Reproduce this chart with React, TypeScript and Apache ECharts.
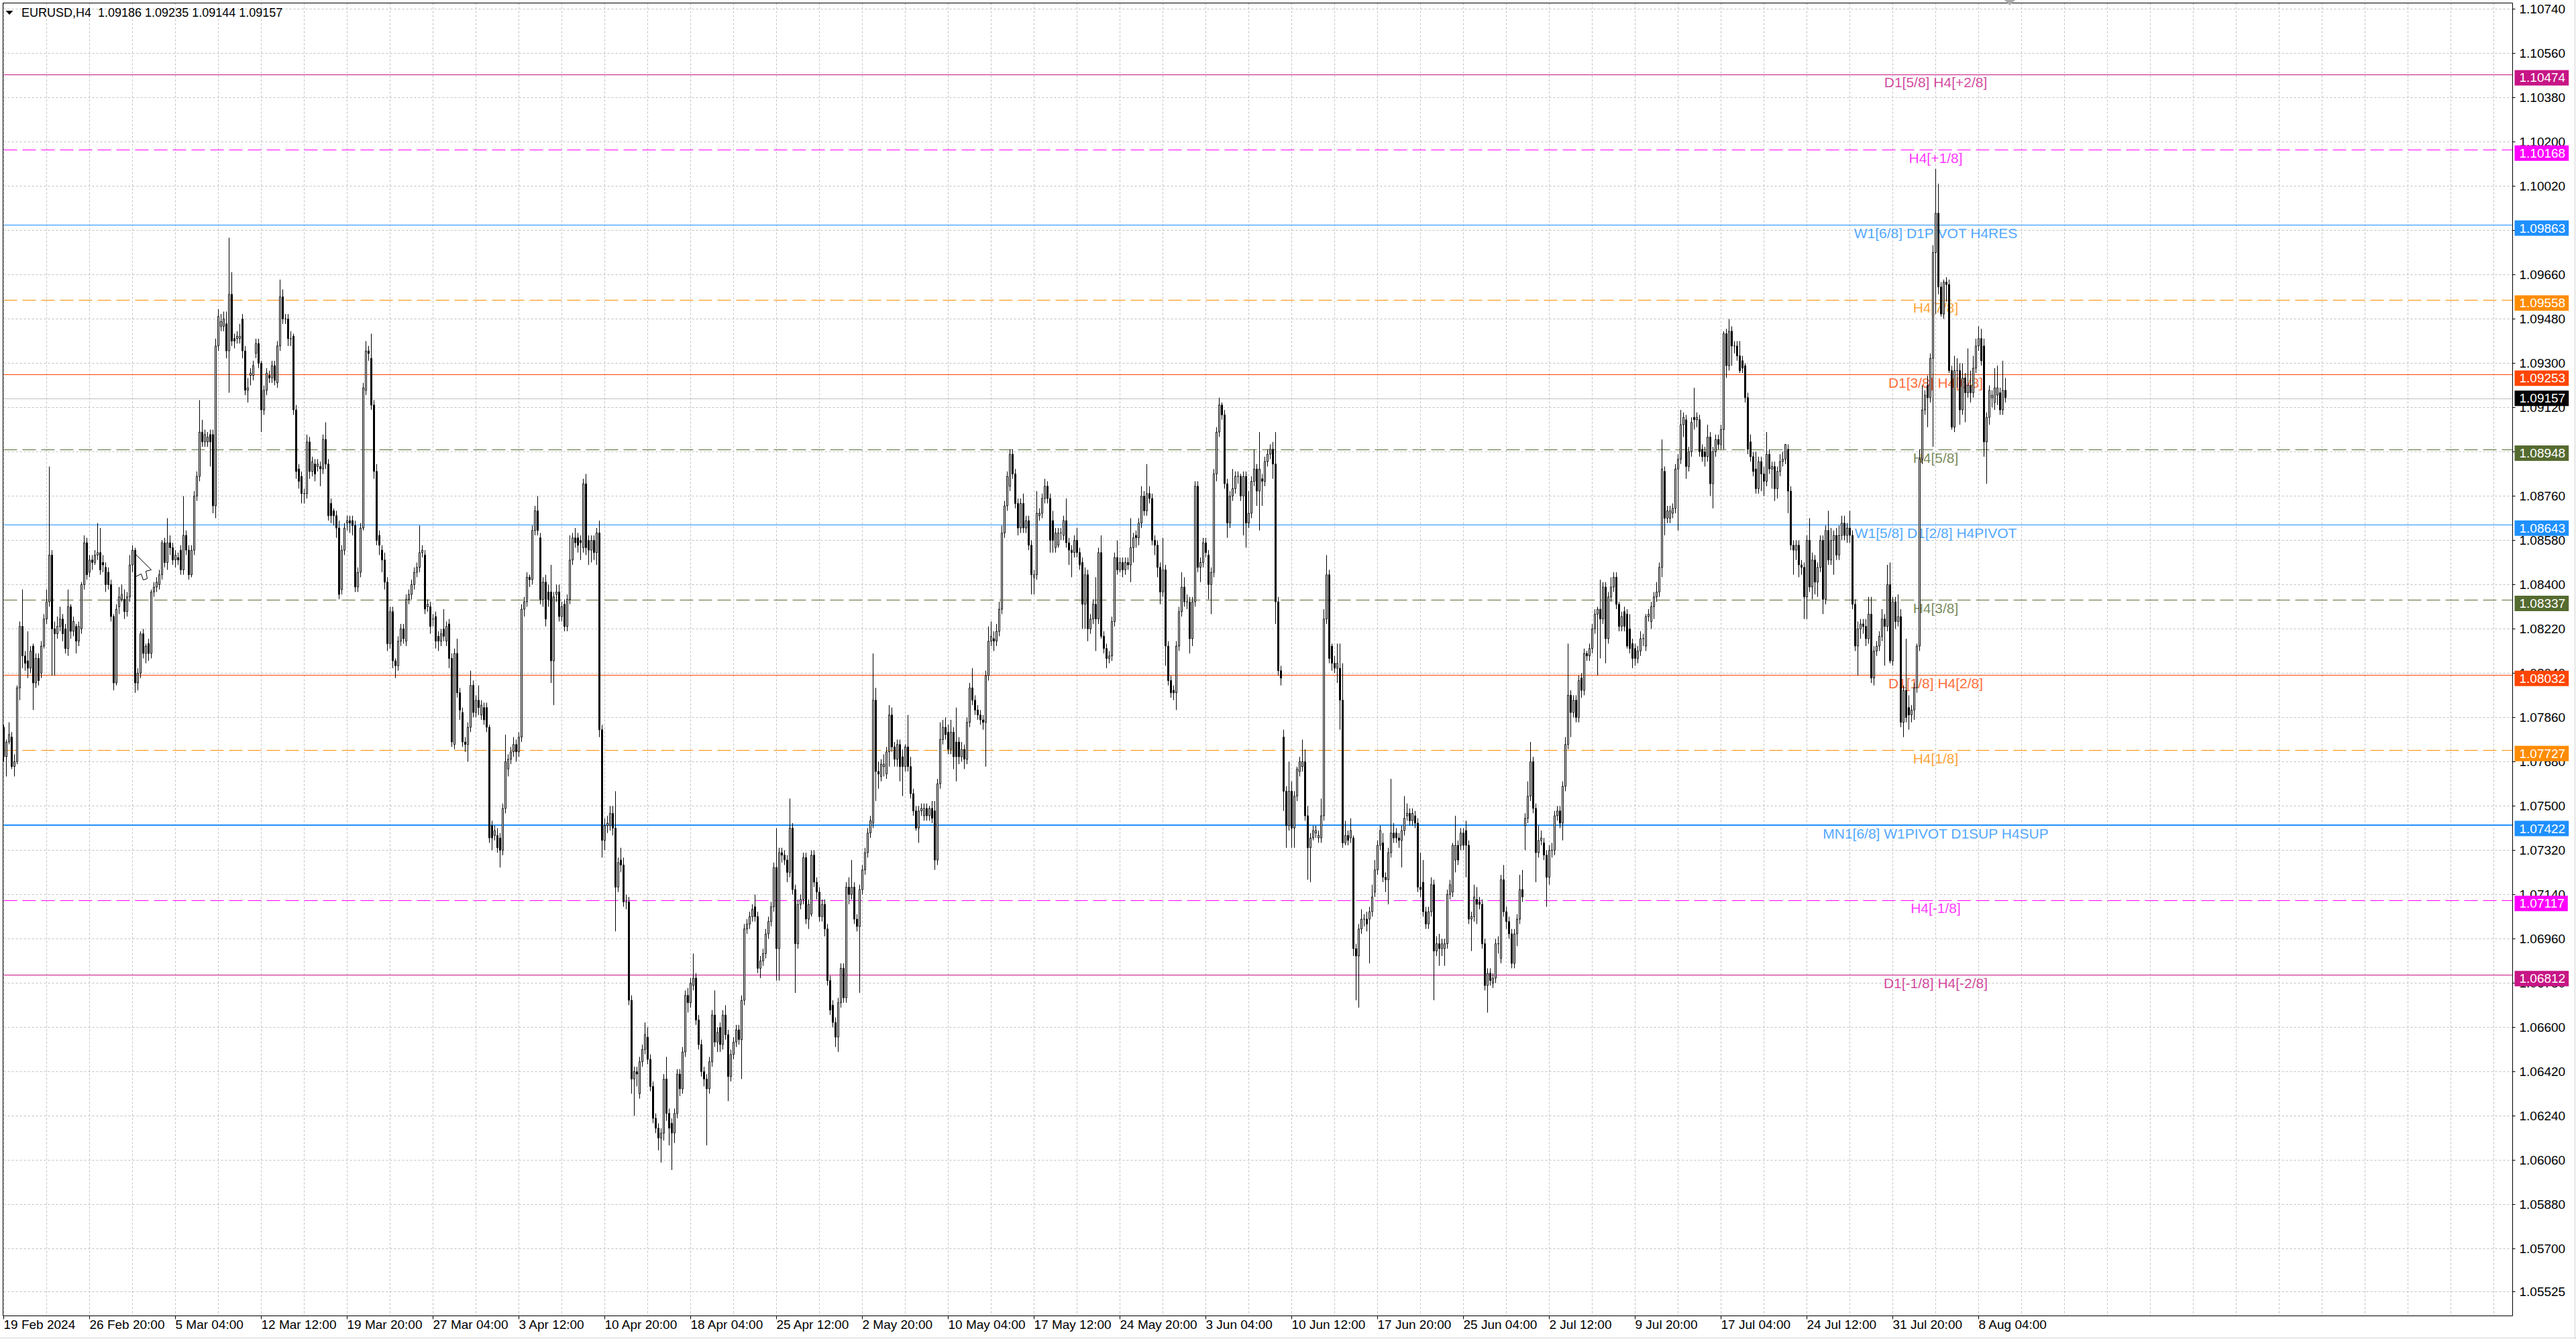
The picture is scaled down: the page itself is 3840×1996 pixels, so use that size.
import * as echarts from "echarts";
import { useEffect, useRef } from "react";

// H4 bars, one row per bar: [open, close, low, high], in pips above 1.0500.
const PIP_BASE = 1.05;

const febMarBars = [
  [282,270,268,283],[270,276,262,277],[276,279,275,284],[278,266,265,280],[266,268,262,271],[268,298,267,299],
  [298,323,293,325],[323,311,306,338],[311,308,305,313],[309,306,302,321],[306,313,304,315],[315,300,289,316],
  [300,310,298,312],[310,301,299,312],[304,315,302,317],[315,326,314,328],[326,333,324,338],[333,352,331,388],
  [352,322,303,354],[322,320,303,325],[320,323,318,327],[323,326,321,331],[326,320,317,328],[322,314,312,324],
  [314,331,311,338],[331,321,318,332],[321,325,319,327],[323,317,312,324],[317,323,315,325],[322,340,320,341],
  [340,357,338,360],[357,344,342,359],[345,350,343,352],[350,349,346,352],[349,352,348,354],[352,353,350,365],
  [353,346,344,363],[349,348,345,352],[347,340,337,349],[345,340,338,347],[340,327,325,342],[327,300,297,328],
  [300,330,299,332],[331,335,328,339],[334,336,333,340],[334,329,326,338],[329,335,327,337],[335,348,333,352],
  [348,354,345,356],[354,300,296,355],[300,304,297,306],[304,320,302,321],[320,312,310,322],[312,315,308,316],
  [316,312,309,318],[312,337,310,338],[337,339,335,341],[339,341,337,343],[340,344,338,346],[344,357,342,358],
  [357,349,347,359],[349,357,346,367],[357,355,352,360],[355,350,348,357],[350,352,347,354],[351,350,348,353],
  [354,346,344,356],[346,360,344,376],[360,354,352,362],[354,344,342,356],[344,354,343,356],[354,376,352,378],
  [376,384,374,386],[384,402,382,415],[402,398,396,407],[398,401,396,403],[398,400,396,402],[401,398,388,403],
  [401,372,369,403],[372,437,367,440],[437,449,435,452],[445,447,443,450],[445,448,443,451],[446,435,432,451],
  [435,458,418,481],[458,439,437,467],[440,439,436,442],[440,441,438,443],[440,441,438,446],[448,435,432,450],
  [435,419,417,437],[419,420,414,424],[425,426,421,428],[425,429,423,431],[434,438,432,440],[438,430,428,440],
  [430,411,402,431],[411,419,409,421],[419,426,417,428],[425,424,422,427],[424,429,422,431],[429,423,421,431],
  [422,437,420,439],[437,457,435,464],[457,448,446,460],[448,448,446,450],[448,440,437,450],[440,440,437,443],
  [441,411,409,442],[411,386,383,413],[387,382,379,389],[384,377,373,386],[377,377,373,379],[377,398,375,401],
  [398,386,383,400],[386,390,384,392],[389,385,382,391],[388,389,386,391],[388,387,380,390],[387,399,385,401],
  [399,389,387,406],[389,368,366,391],[373,368,365,375],[370,368,364,371],[368,363,359,370],[363,336,334,366],
  [338,354,336,356],[354,363,352,365],[365,366,362,368],[366,365,361,368],[366,364,360,368],[364,339,337,366],
  [339,345,337,347],[345,363,343,365],[363,420,362,422],[419,435,417,439],[435,434,431,437],[432,413,411,442],
  [413,386,383,415],[386,358,356,389],[360,356,352,362],[354,350,345,356],[350,341,338,353],[341,316,313,343],
  [316,329,314,331],[329,309,306,331],[309,307,302,310],[307,317,305,319],[317,322,315,324],[322,318,316,324],
  [317,334,315,336],[334,336,332,338],[336,340,334,342],[340,345,338,347],[345,347,343,349],[347,353,345,364],
  [353,354,351,356],[352,330,328,354],[331,332,329,334],[331,323,320,333],[326,326,323,328],[327,317,314,329],
  [319,317,313,321],[317,320,315,322],
];

const marAprBars = [
  [322,319,317,330],[317,323,315,325],[324,310,306,326],[310,276,274,312],[275,312,273,314],[312,296,294,318],
  [296,289,285,298],[288,276,274,290],[276,275,272,278],[275,282,268,284],[282,299,280,305],[299,288,286,301],
  [288,293,286,295],[293,290,287,299],[287,291,285,293],[290,285,283,292],[290,282,280,292],[282,237,235,283],
  [242,237,232,244],[238,240,236,242],[238,233,231,241],[237,232,225,239],[232,249,230,251],[249,268,247,279],
  [265,269,262,271],[269,272,267,274],[272,275,270,278],[275,272,268,277],[272,278,270,280],[278,330,276,332],
  [330,333,327,335],[333,343,331,345],[343,342,339,344],[342,362,340,364],[362,370,360,372],[370,362,360,376],
  [359,334,332,361],[334,341,331,343],[341,326,323,344],[337,334,331,340],[337,309,300,348],[309,335,291,337],
  [336,337,333,340],[337,327,325,340],[327,331,325,333],[332,323,321,334],[323,334,321,336],[334,350,332,360],
  [350,359,348,361],[359,357,355,363],[359,356,353,361],[358,357,350,360],[355,381,353,383],[381,355,352,385],
  [358,354,348,360],[354,358,349,360],[358,353,350,360],[353,361,348,363],[361,281,278,366],[281,236,229,283],
  [236,242,232,245],[242,243,239,246],[242,247,240,250],[247,241,238,250],[241,217,199,256],[217,227,215,229],
  [228,226,223,233],[226,211,209,229],[211,211,208,214],[211,171,169,213],[171,139,133,173],[139,142,124,144],
  [142,141,136,144],[133,146,131,148],[146,151,144,153],[151,157,149,162],[156,147,145,160],[147,136,134,149],
  [136,123,121,138],[123,119,117,125],[119,115,110,121],[115,117,105,119],[117,139,114,141],[139,125,122,148],
  [125,119,112,127],[121,117,102,123],[117,125,113,127],[125,141,123,143],[141,135,132,143],[135,150,133,152],
  [150,173,148,175],[173,170,166,176],[170,178,168,180],[177,180,175,190],[180,163,161,182],[163,153,151,165],
  [153,142,140,155],[142,139,136,144],[139,135,112,141],[135,146,133,148],[146,165,144,167],[165,154,152,175],
  [154,158,150,160],[160,153,150,162],[153,165,151,167],[165,157,155,169],[157,140,130,159],[140,149,138,151],
  [149,154,147,156],[154,159,152,161],[159,155,153,161],[155,171,139,173],[171,200,169,202],[200,202,198,204],
  [202,205,200,207],[205,208,203,210],[209,205,203,214],[205,184,182,207],[184,187,180,189],[187,190,185,192],
  [190,198,188,200],[198,203,196,205],[203,209,201,211],[209,225,207,227],[225,192,179,241],[192,231,179,233],
  [231,230,227,233],[230,228,226,232],[228,223,219,230],[223,241,221,253],[241,216,214,243],[216,194,174,218],
  [194,210,192,212],[210,212,208,214],[212,229,210,231],[229,204,202,231],[204,210,200,212],[206,230,205,232],
  [230,219,217,232],[219,215,212,221],[215,205,203,217],[205,210,203,212],[210,200,197,212],[200,179,177,202],
  [179,167,165,181],[169,162,160,171],[162,156,152,164],[156,170,150,172],[170,184,168,186],[184,172,170,186],
  [172,217,170,219],[217,214,210,221],[214,217,212,228],[217,204,202,219],[204,201,199,206],[201,216,174,218],
  [216,224,214,226],[224,231,222,233],[231,239,229,241],[239,244,237,246],
];

const mayJunBars = [
  [243,293,241,312],[293,264,252,298],[264,263,257,268],[262,267,260,269],[266,267,262,271],[263,272,261,274],
  [272,287,266,291],[287,274,272,290],[274,269,266,276],[269,275,266,277],[275,266,260,277],[270,266,254,273],
  [266,274,264,275],[274,266,264,287],[266,255,253,270],[255,248,246,257],[248,241,240,250],[241,248,235,250],
  [248,249,246,251],[246,249,244,251],[249,246,244,251],[246,249,244,250],[249,245,243,252],[248,228,224,252],
  [228,259,226,261],[259,277,257,284],[277,282,275,285],[282,279,277,286],[280,273,271,283],[273,280,271,285],
  [280,270,265,282],[276,270,260,290],[276,270,267,278],[270,273,268,276],[273,269,265,275],[269,284,267,286],
  [284,298,282,300],[298,293,291,306],[293,289,287,295],[289,287,285,291],[287,285,283,289],[285,284,281,287],
  [284,303,266,305],[303,317,301,323],[317,319,315,325],[318,317,313,321],[317,321,315,324],[321,330,319,333],
  [330,361,328,364],[361,372,359,374],[372,384,370,386],[380,393,378,395],[393,385,383,395],[385,373,371,387],
  [373,363,360,375],[363,373,361,375],[373,363,361,377],[363,366,361,368],[366,356,354,368],[356,344,336,358],
  [343,344,336,346],[344,369,342,378],[368,369,366,371],[369,375,367,377],[375,380,373,383],[380,375,373,382],
  [375,358,353,377],[366,358,353,370],[355,361,353,363],[356,361,355,363],[361,361,358,363],[360,366,358,368],
  [366,357,355,375],[357,354,348,359],[354,353,343,356],[353,358,351,360],[358,353,351,363],[353,348,346,355],
  [349,332,322,351],[332,344,322,347],[344,322,317,346],[322,326,320,328],[326,332,324,334],[332,326,313,343],
  [326,353,324,355],[353,319,318,360],[319,314,312,321],[314,310,306,316],[310,311,308,313],[311,325,309,327],
  [325,351,323,353],[351,346,344,358],[346,349,345,351],[349,346,343,351],[346,349,344,351],[349,348,346,351],
  [348,355,341,367],[355,359,349,361],[360,359,355,362],[359,365,356,367],[365,376,363,380],[376,370,368,378],
  [370,377,368,389],[377,375,373,380],[375,358,356,377],[358,356,352,360],[356,347,343,358],[347,337,332,349],
  [337,346,335,359],[346,315,307,348],[315,301,299,317],[301,296,294,303],[297,296,293,299],[296,315,289,317],
  [315,329,313,331],[329,339,327,345],[339,333,331,343],[333,333,330,336],[333,318,312,335],[318,333,315,335],
  [333,380,331,382],[380,347,345,382],[347,349,341,351],[349,357,347,359],[357,353,351,359],[352,340,334,354],
  [340,345,328,347],[345,385,343,387],[385,402,382,404],[402,413,400,416],[413,409,407,414],[409,381,379,411],
  [381,365,359,383],[365,376,363,378],[376,379,374,387],[379,384,377,386],[384,384,381,386],[384,376,374,385],
  [376,384,360,386],[384,365,355,386],[365,369,363,378],[369,382,367,384],[382,387,380,395],[387,378,372,389],
  [378,387,362,402],[383,382,372,385],[382,390,380,392],[390,393,388,395],[393,395,391,397],[395,389,383,398],
  [389,333,324,402],[333,305,303,335],[305,302,299,307],[278,256,248,281],[256,242,233,258],
];

const junJulBars = [
  [242,256,240,268],[256,241,233,260],[241,254,233,256],[254,265,252,266],[264,268,262,270],[266,268,264,277],
  [268,246,244,273],[246,233,220,250],[233,237,219,239],[237,240,236,242],[239,240,237,242],[237,238,235,240],
  [237,246,235,253],[246,326,244,330],[326,344,324,352],[344,310,308,346],[315,308,305,316],[308,306,304,311],
  [306,308,300,316],[306,293,281,316],[293,235,233,308],[235,238,234,244],[238,236,234,240],[237,240,235,245],
  [237,192,189,238],[192,189,171,194],[189,200,168,202],[200,204,198,208],[204,204,201,206],[204,202,199,207],
  [204,207,186,209],[207,213,205,218],[215,224,213,228],[224,234,222,236],[234,240,232,242],[235,221,219,239],
  [221,220,215,223],[220,231,210,233],[231,239,229,261],[239,237,235,243],[239,237,235,241],[237,236,233,239],
  [236,240,225,242],[240,245,238,254],[246,247,244,251],[247,244,242,249],[244,247,242,249],[246,243,241,248],
  [243,217,215,245],[217,216,213,231],[219,207,205,228],[207,202,200,209],[202,207,200,209],[207,218,205,221],
  [218,191,171,220],[191,194,189,197],[194,192,185,198],[192,194,189,196],[192,194,185,196],[194,214,192,216],
  [214,218,212,220],[215,234,213,235],[228,234,223,246],[234,228,226,236],[234,239,232,241],[239,234,232,241],
  [240,234,221,244],[234,204,202,236],[204,205,191,207],[205,213,203,218],[212,210,202,217],[211,210,208,213],
  [210,194,192,212],[194,177,175,196],[177,182,166,184],[182,179,177,184],[178,180,176,182],[180,194,178,196],
  [194,194,190,197],[188,220,186,222],[220,207,205,226],[207,203,200,209],[203,198,196,205],[198,186,184,200],
  [186,198,184,200],[198,204,193,206],[204,216,202,222],[216,213,211,224],[242,245,232,247],[245,254,243,260],
  [254,268,252,276],[268,249,247,270],[249,231,219,251],[231,236,229,242],[236,237,234,240],[235,230,228,237],
  [230,221,209,232],[221,232,218,234],[232,232,229,235],[232,246,230,248],[246,248,244,250],[248,243,241,250],
  [243,258,236,260],[258,275,256,278],[275,295,273,316],[295,288,278,297],[288,293,286,295],[293,286,284,295],
  [286,301,284,303],[302,297,294,304],[297,312,295,314],[312,311,309,313],[311,314,309,316],[314,322,312,324],
  [322,328,320,330],[328,330,303,331],[330,326,310,342],[326,339,324,341],[339,318,308,341],[318,335,316,337],
  [335,339,333,343],[339,343,337,345],[343,332,330,345],[332,323,321,333],[323,327,321,329],[329,323,321,331],
  [328,315,314,330],[322,314,312,328],[316,310,306,318],[314,310,307,316],[310,313,308,315],[313,318,311,321],
  [318,318,315,320],[315,327,313,328],[327,328,325,330],[325,331,322,333],[331,335,326,337],[335,337,333,341],
  [337,347,335,349],[347,387,343,399],[386,367,360,388],[367,370,365,372],[367,370,365,372],[369,371,367,373],
  [371,387,369,389],[387,391,362,393],[391,405,389,411],[405,408,400,410],[407,388,383,409],[388,394,386,396],
  [394,406,392,408],[408,407,403,420],[407,408,404,410],[407,394,392,409],[395,392,390,397],[394,392,388,396],
  [392,400,390,405],[400,381,376,402],[381,394,371,396],[394,399,392,401],[399,397,395,401],[397,403,395,405],
  [403,442,395,443],
];

const julAugBars = [
  [442,429,424,444],[429,443,427,448],[443,437,429,445],[437,437,434,439],[437,433,431,439],[433,427,426,439],
  [431,428,426,433],[429,416,414,430],[416,395,393,418],[398,392,390,401],[392,386,384,394],[387,379,377,394],
  [379,390,377,392],[390,385,378,392],[385,382,376,388],[382,393,380,402],[393,387,385,395],[387,388,379,390],
  [388,379,374,390],[379,386,375,388],[386,390,384,393],[390,391,388,394],[391,397,389,397],[395,378,369,397],
  [378,356,354,380],[356,354,344,358],[354,356,350,358],[356,348,343,358],[348,347,344,350],[347,335,326,349],
  [335,358,326,360],[358,339,337,367],[339,350,334,353],[350,341,336,352],[341,347,335,349],[347,358,345,360],
  [358,334,328,360],[334,362,332,364],[362,350,348,370],[350,358,348,363],[358,360,344,362],[360,352,350,363],
  [352,360,350,364],[360,365,358,368],[365,360,358,368],[360,363,357,365],[363,360,357,370],[360,332,330,362],
  [332,315,313,334],[315,322,303,325],[322,324,318,326],[324,323,320,326],[323,318,315,326],[318,328,316,335],
  [328,302,300,335],[302,313,299,315],[313,315,311,317],[315,319,313,321],[319,326,317,330],[326,323,307,328],
  [323,340,321,348],[340,309,308,349],[309,333,307,335],[333,325,322,335],[325,327,323,336],[327,284,282,330],
  [284,297,278,299],[297,286,284,318],[290,287,281,295],[287,289,284,291],[289,298,285,300],[298,315,296,316],
  [315,391,313,395],[391,411,389,421],[411,417,409,419],[421,416,404,425],[416,432,414,434],[432,475,396,478],
  [475,491,450,509],[491,461,458,503],[461,450,449,463],[450,463,448,464],[463,462,455,465],[462,427,426,464],
  [427,404,403,429],[404,427,402,433],[427,427,420,432],[427,411,405,430],[411,424,409,430],[424,418,406,426],
  [418,421,416,436],[421,418,414,427],[418,428,416,433],[428,437,426,440],[437,440,435,445],[440,431,429,444],
  [437,398,392,440],[398,408,381,410],[408,419,405,421],[416,417,412,419],[414,420,411,428],[417,420,413,429],
  [418,411,409,420],[411,419,409,431],[419,416,414,424],
];

// One time label every 32 bars, starting at the first visible bar.
const dateLabels = [
  "19 Feb 2024", "26 Feb 20:00", "5 Mar 04:00", "12 Mar 12:00", "19 Mar 20:00", "27 Mar 04:00",
  "3 Apr 12:00", "10 Apr 20:00", "18 Apr 04:00", "25 Apr 12:00", "2 May 20:00", "10 May 04:00",
  "17 May 12:00", "24 May 20:00", "3 Jun 04:00", "10 Jun 12:00", "17 Jun 20:00", "25 Jun 04:00",
  "2 Jul 12:00", "9 Jul 20:00", "17 Jul 04:00", "24 Jul 12:00", "31 Jul 20:00", "8 Aug 04:00",
];

const priceTicks = [
  1.1074, 1.1056, 1.1038, 1.102, 1.1002, 1.0984, 1.0966, 1.0948, 1.093, 1.0912,
  1.0894, 1.0876, 1.0858, 1.084, 1.0822, 1.0804, 1.0786, 1.0768, 1.075, 1.0732,
  1.0714, 1.0696, 1.0678, 1.066, 1.0642, 1.0624, 1.0606, 1.0588, 1.057, 1.05525,
];

const levelPrices = [
  1.10474, 1.10168, 1.09863, 1.09558, 1.09253, 1.08948, 1.08643,
  1.08337, 1.08032, 1.07727, 1.07422, 1.07117, 1.06812,
];

const levelNames = [
  "D1[5/8] H4[+2/8]", "H4[+1/8]", "W1[6/8] D1PIVOT H4RES", "H4[7/8]", "D1[3/8] H4[6/8]",
  "H4[5/8]", "W1[5/8] D1[2/8] H4PIVOT", "H4[3/8]", "D1[1/8] H4[2/8]", "H4[1/8]",
  "MN1[6/8] W1PIVOT D1SUP H4SUP", "H4[-1/8]", "D1[-1/8] H4[-2/8]",
];

const lastPrice = 1.09157;
const symbolLine = "EURUSD,H4\u00a0 1.09186 1.09235 1.09144 1.09157";

const VIOLET = "#c71585";
const MAGENTA = "#ff00ff";
const BLUE = "#1e90ff";
const ORANGE = "#ff8c00";
const RED = "#ff4500";
const OLIVE = "#556b2f";

const levelStyles = [
  { color: VIOLET, dashed: false, width: 1 },
  { color: MAGENTA, dashed: true, width: 1 },
  { color: BLUE, dashed: false, width: 1 },
  { color: ORANGE, dashed: true, width: 1 },
  { color: RED, dashed: false, width: 1 },
  { color: OLIVE, dashed: true, width: 1 },
  { color: BLUE, dashed: false, width: 1 },
  { color: OLIVE, dashed: true, width: 1 },
  { color: RED, dashed: false, width: 1 },
  { color: ORANGE, dashed: true, width: 1 },
  { color: BLUE, dashed: false, width: 2 },
  { color: MAGENTA, dashed: true, width: 1 },
  { color: VIOLET, dashed: false, width: 1 },
];

const WIDTH = 3840;
const HEIGHT = 1996;
const PLOT_LEFT = 5.5;
const PLOT_RIGHT = 3745.5;
const PLOT_TOP = 4.5;
const PLOT_BOTTOM = 1961.5;
const SLOTS = 936;
const LABEL_STEP = 32;
const GRID_STEP = 16;
const LEVEL_TEXT_SLOT = 720;
const FONT = "'Liberation Sans', Arial, sans-serif";

// mouse pointer left on the screenshot
const cursorOutline = [[202.5, 826.5], [225.5, 849.5], [217.5, 851.5], [219.5, 862.5], [213.5, 864.5], [210.5, 855.5], [202.5, 859.5]];

function getOption() {
  const bars = [...febMarBars, ...marAprBars, ...mayJunBars, ...junJulBars, ...julAugBars];
  const candles = bars.map((b) => b.map((p) => +(PIP_BASE + p / 10000).toFixed(5)));
  const slots = Array.from({ length: SLOTS }, (_, i) => String(i));
  const lastLabelSlot = (dateLabels.length - 1) * LABEL_STEP;
  const isLabelSlot = (i: number) => i % LABEL_STEP === 0 && i <= lastLabelSlot;

  const tag = {
    show: true,
    position: "end",
    distance: 3,
    color: "#ffffff",
    fontSize: 19,
    lineHeight: 19,
    fontFamily: FONT,
    padding: [2, 5, 2, 7],
  };

  const lines: any[] = levelPrices.map((p, i) => ({
    yAxis: p,
    lineStyle: {
      color: levelStyles[i].color,
      width: levelStyles[i].width,
      type: levelStyles[i].dashed ? [20, 8] : "solid",
    },
    label: { ...tag, offset: [0, 5], formatter: p.toFixed(5), backgroundColor: levelStyles[i].color },
  }));
  lines.push({
    yAxis: lastPrice,
    lineStyle: { color: "#c0c0c0", width: 1, type: "solid" },
    label: { ...tag, formatter: lastPrice.toFixed(5), backgroundColor: "#000000" },
  });

  return {
    animation: false,
    backgroundColor: "#ffffff",
    textStyle: { fontFamily: FONT },
    grid: {
      left: PLOT_LEFT,
      right: WIDTH - PLOT_RIGHT,
      top: PLOT_TOP,
      bottom: HEIGHT - PLOT_BOTTOM,
    },
    xAxis: {
      type: "category",
      data: slots,
      boundaryGap: false,
      axisLine: { show: false },
      axisTick: {
        show: true,
        interval: (i: number) => isLabelSlot(i),
        length: 5,
        lineStyle: { color: "#000000" },
      },
      axisLabel: {
        interval: (i: number) => isLabelSlot(i),
        formatter: (_v: string, i: number) => dateLabels[i / LABEL_STEP],
        align: "left",
        margin: 3,
        fontSize: 19,
        color: "#000000",
        fontFamily: FONT,
      },
      splitLine: {
        show: true,
        interval: (i: number) => i % GRID_STEP === 0,
        lineStyle: { color: "#c0c0c0", width: 1, type: [3, 3] },
      },
    },
    yAxis: {
      type: "value",
      position: "right",
      min: 1.05427,
      max: 1.107644,
      axisLine: { show: false },
      axisTick: {
        show: true,
        customValues: priceTicks,
        length: 4,
        lineStyle: { color: "#000000" },
      },
      axisLabel: {
        customValues: priceTicks,
        formatter: (v: number) => v.toFixed(5),
        margin: 10,
        fontSize: 19,
        color: "#000000",
        fontFamily: FONT,
      },
      splitLine: {
        show: true,
        lineStyle: { color: "#c0c0c0", width: 1, type: [3, 3] },
      },
    },
    series: [
      {
        type: "scatter",
        z: 1,
        silent: true,
        symbolSize: 1,
        itemStyle: { color: "rgba(0,0,0,0)" },
        data: levelPrices.map((p, i) => ({
          value: [LEVEL_TEXT_SLOT, p],
          name: levelNames[i],
          label: { color: levelStyles[i].color },
        })),
        label: {
          show: true,
          position: "inside",
          offset: [0, 12],
          formatter: "{b}",
          fontSize: 21,
          fontFamily: FONT,
        },
        markLine: {
          silent: true,
          animation: false,
          precision: 5,
          symbol: ["none", "none"],
          data: lines,
        },
      },
      {
        type: "candlestick",
        z: 5,
        clip: false,
        large: false,
        barWidth: 2,
        data: candles,
        itemStyle: {
          color: "#ffffff",
          color0: "#000000",
          borderColor: "#000000",
          borderColor0: "#000000",
          borderWidth: 1,
        },
      },
    ],
    graphic: [
      {
        type: "rect",
        silent: true,
        z: 50,
        shape: { x: 4.5, y: PLOT_TOP, width: PLOT_RIGHT - 4.5, height: PLOT_BOTTOM - PLOT_TOP },
        style: { fill: "none", stroke: "#000000", lineWidth: 1 },
      },
      {
        type: "polygon",
        silent: true,
        z: 50,
        shape: { points: [[8.5, 16], [19.5, 16], [14, 22]] },
        style: { fill: "#000000" },
      },
      {
        type: "text",
        silent: true,
        z: 50,
        x: 32,
        y: 19,
        style: {
          text: symbolLine,
          fill: "#000000",
          fontSize: 18,
          fontFamily: FONT,
          verticalAlign: "middle",
        },
      },
      {
        type: "polygon",
        silent: true,
        z: 50,
        shape: { points: [[2988, 0], [3004, 0], [2996, 8]] },
        style: { fill: "#a9a9a9" },
      },
      {
        type: "polygon",
        silent: true,
        z: 60,
        shape: { points: cursorOutline },
        style: { fill: "#ffffff", stroke: "#000000", lineWidth: 1 },
      },
      {
        type: "line",
        silent: true,
        shape: { x1: 3838.5, y1: 0, x2: 3838.5, y2: HEIGHT },
        style: { stroke: "#d4d4d4", lineWidth: 1 },
      },
      {
        type: "line",
        silent: true,
        shape: { x1: 0, y1: 1994.5, x2: WIDTH, y2: 1994.5 },
        style: { stroke: "#d4d4d4", lineWidth: 1 },
      },
    ],
  };
}

export default function App() {
  const containerRef = useRef<HTMLDivElement>(null);

  useEffect(() => {
    if (!containerRef.current) return;
    const chart = echarts.init(containerRef.current, undefined, { renderer: "svg" });
    chart.setOption(getOption() as any);
    return () => {
      chart.dispose();
    };
  }, []);

  return (
    <div
      ref={containerRef}
      style={{ position: "absolute", left: 0, top: 0, width: WIDTH, height: HEIGHT, background: "#ffffff" }}
    />
  );
}
